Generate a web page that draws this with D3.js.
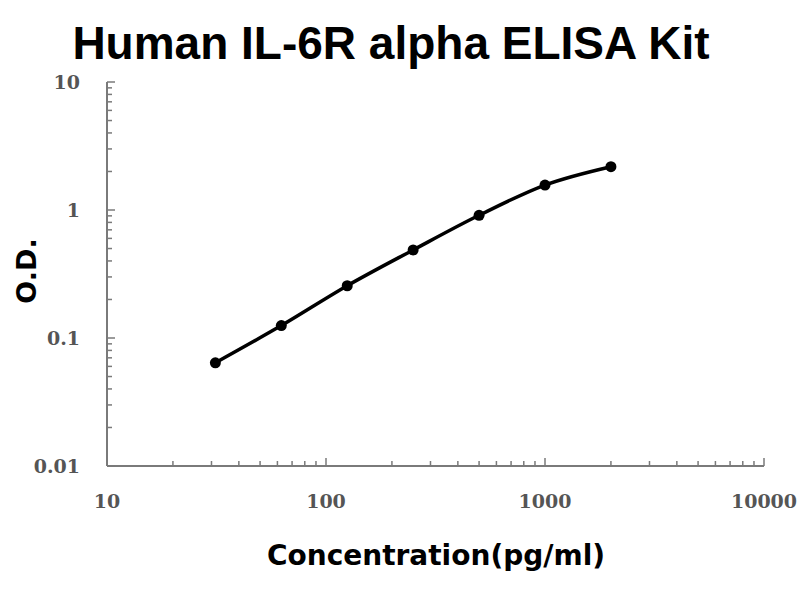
<!DOCTYPE html>
<html>
<head>
<meta charset="utf-8">
<script src="https://cdn.jsdelivr.net/npm/d3@7"></script>
<style>
  body { margin: 0; background: #fff; }
</style>
</head>
<body>
<div id="chart"></div>
<script>
// standard curve data
const concentrations = [31.25, 62.5, 125, 250, 500, 1000, 2000];
const odValues = [0.064, 0.125, 0.256, 0.487, 0.909, 1.567, 2.18];
const xTickLabels = [10, 100, 1000, 10000];
const yTickLabels = [0.01, 0.1, 1, 10];

const width = 800, height = 600;
const plot = { left: 107, right: 764, top: 82, bottom: 466 };

const svg = d3.select("#chart").append("svg")
    .attr("width", width)
    .attr("height", height);

const x = d3.scaleLog().domain([10, 10000]).range([plot.left, plot.right]);
const y = d3.scaleLog().domain([0.01, 10]).range([plot.bottom, plot.top]);

// minor ticks (2..9 in each decade)
function minorTicks(domain) {
    const out = [];
    for (let d = domain[0]; d < domain[1]; d *= 10) {
        for (let k = 2; k < 10; k++) out.push(d * k);
    }
    return out;
}

const axisColor = "#7a7a7a";
const tickFont = "DejaVu Serif, serif";
const labelFont = "DejaVu Sans, Verdana, sans-serif";

// x axis
const gx = svg.append("g");
gx.append("line")
    .attr("x1", plot.left).attr("x2", plot.right)
    .attr("y1", plot.bottom).attr("y2", plot.bottom)
    .attr("stroke", axisColor).attr("stroke-width", 2);
gx.selectAll(".xminor").data(minorTicks([10, 10000])).enter().append("line")
    .attr("x1", d => x(d)).attr("x2", d => x(d))
    .attr("y1", plot.bottom).attr("y2", plot.bottom - 5)
    .attr("stroke", axisColor).attr("stroke-width", 1.5);
gx.selectAll(".xmajor").data(xTickLabels).enter().append("line")
    .attr("x1", d => x(d)).attr("x2", d => x(d))
    .attr("y1", plot.bottom).attr("y2", plot.bottom - 8)
    .attr("stroke", axisColor).attr("stroke-width", 1.5);
gx.selectAll(".xlabel").data(xTickLabels).enter().append("text")
    .attr("x", d => x(d))
    .attr("y", 508)
    .attr("text-anchor", "middle")
    .attr("font-family", tickFont)
    .attr("font-weight", "bold")
    .attr("font-size", 19)
    .attr("fill", "#555")
    .text(d => d);

// y axis
const gy = svg.append("g");
gy.append("line")
    .attr("x1", plot.left).attr("x2", plot.left)
    .attr("y1", plot.top).attr("y2", plot.bottom)
    .attr("stroke", axisColor).attr("stroke-width", 2);
gy.selectAll(".yminor").data(minorTicks([0.01, 10])).enter().append("line")
    .attr("x1", plot.left).attr("x2", plot.left + 5)
    .attr("y1", d => y(d)).attr("y2", d => y(d))
    .attr("stroke", axisColor).attr("stroke-width", 1.5);
gy.selectAll(".ymajor").data(yTickLabels).enter().append("line")
    .attr("x1", plot.left).attr("x2", plot.left + 8)
    .attr("y1", d => y(d)).attr("y2", d => y(d))
    .attr("stroke", axisColor).attr("stroke-width", 1.5);
gy.selectAll(".ylabel").data(yTickLabels).enter().append("text")
    .attr("x", 80)
    .attr("y", d => y(d) + 7)
    .attr("text-anchor", "end")
    .attr("font-family", tickFont)
    .attr("font-weight", "bold")
    .attr("font-size", 19)
    .attr("fill", "#555")
    .text(d => d);

// curve
const pts = concentrations.map((c, i) => [x(c), y(odValues[i])]);
svg.append("path")
    .datum(pts)
    .attr("fill", "none")
    .attr("stroke", "#000")
    .attr("stroke-width", 3.5)
    .attr("d", d3.line().curve(d3.curveMonotoneX));
svg.selectAll(".pt").data(pts).enter().append("circle")
    .attr("cx", d => d[0]).attr("cy", d => d[1])
    .attr("r", 5.5)
    .attr("fill", "#000");

// title and axis labels
svg.append("text")
    .attr("x", 391).attr("y", 59)
    .attr("text-anchor", "middle")
    .attr("font-family", "Liberation Sans, Arial, sans-serif")
    .attr("font-weight", "bold")
    .attr("font-size", 46)
    .attr("fill", "#000")
    .text("Human IL-6R alpha ELISA Kit");

svg.append("text")
    .attr("x", 436).attr("y", 565)
    .attr("text-anchor", "middle")
    .attr("font-family", labelFont)
    .attr("font-weight", "bold")
    .attr("font-size", 28)
    .attr("fill", "#000")
    .text("Concentration(pg/ml)");

svg.append("text")
    .attr("transform", "translate(36,271) rotate(-90)")
    .attr("text-anchor", "middle")
    .attr("font-family", labelFont)
    .attr("font-weight", "bold")
    .attr("font-size", 27)
    .attr("fill", "#000")
    .text("O.D.");
</script>
</body>
</html>
